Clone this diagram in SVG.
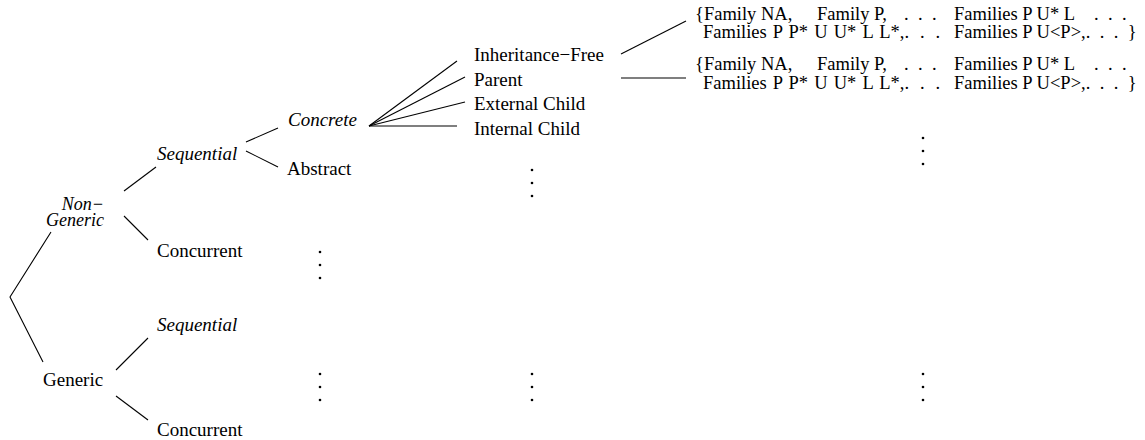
<svg xmlns="http://www.w3.org/2000/svg" width="1145" height="440" viewBox="0 0 1145 440">
<style>
text{font-family:"Liberation Serif","Times New Roman",serif;font-size:19px;fill:#000}
.i{font-style:italic}
.ng{font-size:18px}
.b{font-size:18.5px}
.d{letter-spacing:2.4px}
.w{word-spacing:1.5px}
line,polyline{stroke:#000;stroke-width:1.1;fill:none}
circle{fill:#000}
</style>
<rect width="1145" height="440" fill="#fff"/>
<g id="connectors">
<polyline points="51,232 10,297 43,362"/>
<line x1="124" y1="191" x2="156" y2="167"/>
<line x1="124" y1="216" x2="148" y2="240"/>
<line x1="116" y1="370" x2="148" y2="338"/>
<line x1="116" y1="396" x2="148" y2="420"/>
<line x1="246" y1="142" x2="278" y2="128"/>
<line x1="246" y1="151" x2="278" y2="167"/>
<line x1="369" y1="126" x2="457" y2="61"/>
<line x1="369" y1="126" x2="465" y2="77"/>
<line x1="369" y1="126" x2="465" y2="102"/>
<line x1="369" y1="126" x2="457" y2="126"/>
<line x1="621" y1="54" x2="686" y2="21"/>
<line x1="621" y1="78" x2="686" y2="78"/>
</g>
<g id="n-root-nongeneric"><text class="i ng" x="104" y="210" text-anchor="end">Non−</text><text class="i ng" x="104" y="226" text-anchor="end">Generic</text></g>
<g id="n-generic"><text x="43" y="386">Generic</text></g>
<g id="n-seq1"><text class="i" x="157" y="160">Sequential</text></g>
<g id="n-conc1"><text x="157" y="257">Concurrent</text></g>
<g id="n-seq2"><text class="i" x="157" y="331">Sequential</text></g>
<g id="n-conc2"><text x="157" y="436">Concurrent</text></g>
<g id="n-concrete"><text class="i" x="288" y="126">Concrete</text></g>
<g id="n-abstract"><text x="287" y="175">Abstract</text></g>
<g id="n-inhfree"><text x="474" y="61">Inheritance−Free</text></g>
<g id="n-parent"><text x="474" y="86">Parent</text></g>
<g id="n-extchild"><text x="474" y="110">External Child</text></g>
<g id="n-intchild"><text x="474" y="135">Internal Child</text></g>
<g id="n-block1">
<text class="b" x="695" y="20">{Family NA,</text><text class="b" x="817" y="20">Family P,</text><text class="b d" x="904" y="20">. . .</text><text class="b" x="954" y="20">Families P U* L</text><text class="b d" x="1094" y="20">. . .</text>
<text class="b w" x="703" y="38">Families P P* U U* L L*,<tspan class="d">. . .</tspan></text><text class="b" x="954" y="38">Families P U&lt;P&gt;,<tspan class="d">. . . }</tspan></text>
</g>
<g id="n-block2">
<text class="b" x="695" y="70">{Family NA,</text><text class="b" x="817" y="70">Family P,</text><text class="b d" x="904" y="70">. . .</text><text class="b" x="954" y="70">Families P U* L</text><text class="b d" x="1094" y="70">. . .</text>
<text class="b w" x="703" y="89">Families P P* U U* L L*,<tspan class="d">. . .</tspan></text><text class="b" x="954" y="89">Families P U&lt;P&gt;,<tspan class="d">. . . }</tspan></text>
</g>
<g id="dots">
<circle cx="320" cy="252" r="1.3"/><circle cx="320" cy="265" r="1.3"/><circle cx="320" cy="278" r="1.3"/>
<circle cx="320" cy="374" r="1.3"/><circle cx="320" cy="387" r="1.3"/><circle cx="320" cy="400" r="1.3"/>
<circle cx="532" cy="170" r="1.3"/><circle cx="532" cy="183" r="1.3"/><circle cx="532" cy="196" r="1.3"/>
<circle cx="532" cy="374" r="1.3"/><circle cx="532" cy="387" r="1.3"/><circle cx="532" cy="400" r="1.3"/>
<circle cx="923" cy="138" r="1.3"/><circle cx="923" cy="151" r="1.3"/><circle cx="923" cy="164" r="1.3"/>
<circle cx="923" cy="374" r="1.3"/><circle cx="923" cy="387" r="1.3"/><circle cx="923" cy="400" r="1.3"/>
</g>
</svg>
